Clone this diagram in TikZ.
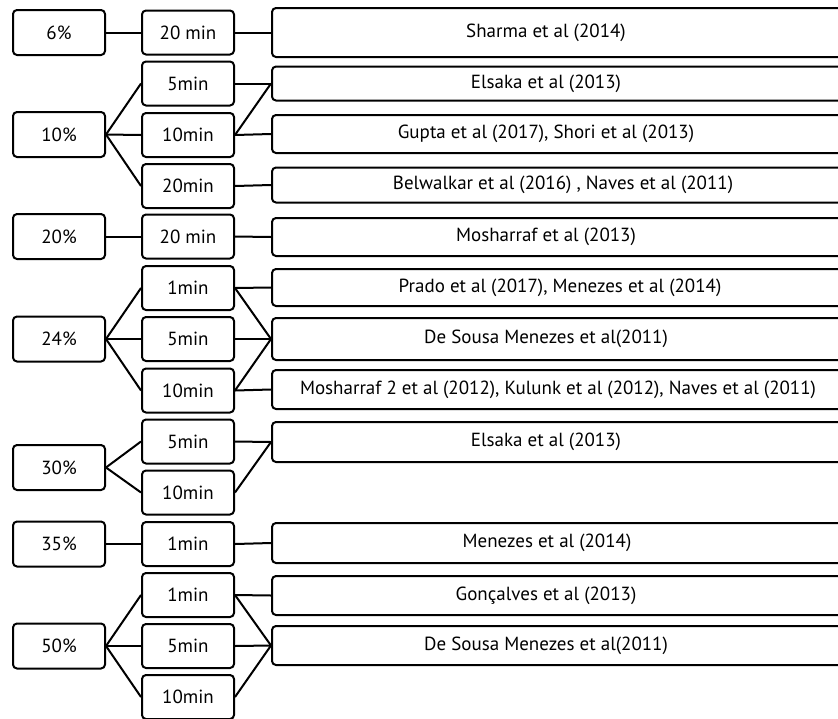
\documentclass[tikz,border=0pt]{standalone}
\usepackage{fontspec}
\setmainfont{PT Sans}
\begin{document}
\begin{tikzpicture}[x=1pt,y=-1pt,
  box/.style={draw,line width=2pt,rounded corners=4pt,inner sep=0pt},
  pct/.style={box,minimum width=92pt,minimum height=45pt},
  dur/.style={box,minimum width=92pt,minimum height=44pt},
  ref/.style={box,anchor=west,minimum width=600pt},
  link/.style={line width=2pt},
  every node/.style={font=\fontsize{19}{22}\selectfont}]
  % page frame, in pixels of the original layout (y grows downwards)
  \useasboundingbox (0,0) rectangle (838,718);

  % concentrations
  \node[pct] (p6)  at (59,32.5)  {6\%};
  \node[pct] (p10) at (59,134.5) {10\%};
  \node[pct] (p20) at (59,236.5) {20\%};
  \node[pct] (p24) at (59,339)   {24\%};
  \node[pct] (p30) at (59,467.5) {30\%};
  \node[pct] (p35) at (59,544)   {35\%};
  \node[pct] (p50) at (59,646)   {50\%};

  % etching times
  \node[dur] (d6)   at (188,32.5) {20 min};
  \node[dur] (d10a) at (188,83.5) {5min};
  \node[dur] (d10b) at (188,135)  {10min};
  \node[dur] (d10c) at (188,186)  {20min};
  \node[dur] (d20)  at (188,236.5) {20 min};
  \node[dur] (d24a) at (188,288)  {1min};
  \node[dur] (d24b) at (188,339)  {5min};
  \node[dur] (d24c) at (188,390.5) {10min};
  \node[dur] (d30a) at (188,441.5) {5min};
  \node[dur] (d30b) at (188,492.5) {10min};
  \node[dur] (d35)  at (188,544)  {1min};
  \node[dur] (d50a) at (188,595)  {1min};
  \node[dur] (d50b) at (188,646)  {5min};
  \node[dur] (d50c) at (188,697)  {10min};

  % references (boxes run past the right edge)
  \node[ref,minimum height=49pt] (r6)   at (271,32.5)  {};
  \node[ref,minimum height=34pt] (r10a) at (271,83.5)  {};
  \node[ref,minimum height=38pt] (r10b) at (271,134)   {};
  \node[ref,minimum height=35pt] (r10c) at (271,185)   {};
  \node[ref,minimum height=38pt] (r20)  at (271,237)   {};
  \node[ref,minimum height=37pt] (r24a) at (271,287.5) {};
  \node[ref,minimum height=42pt] (r24b) at (271,339)   {};
  \node[ref,minimum height=39pt] (r24c) at (271,389.5) {};
  \node[ref,minimum height=40pt] (r30)  at (271,442)   {};
  \node[ref,minimum height=40pt] (r35)  at (271,543)   {};
  \node[ref,minimum height=39pt] (r50a) at (271,595.5) {};
  \node[ref,minimum height=39pt] (r50b) at (271,645.5) {};

  \node (t6)   at (546,32.5)  {Sharma et al (2014)};
  \node (t10a) at (546,83.5)  {Elsaka et al (2013)};
  \node (t10b) at (546,134)   {Gupta et al (2017), Shori et al (2013)};
  \node (t10c) at (563,185)   {Belwalkar et al (2016) , Naves et al (2011)};
  \node (t20)  at (546,237)   {Mosharraf et al (2013)};
  \node (t24a) at (560,287.5) {Prado et al (2017), Menezes et al (2014)};
  \node (t24b) at (546,339)   {De Sousa Menezes et al(2011)};
  \node (t24c) at (558,389.5) {Mosharraf 2 et al (2012), Kulunk et al (2012), Naves et al (2011)};
  \node (t30)  at (546,442)   {Elsaka et al (2013)};
  \node (t35)  at (547,543)   {Menezes et al (2014)};
  \node (t50a) at (546,595.5) {Gonçalves et al (2013)};
  \node (t50b) at (546,645.5) {De Sousa Menezes et al(2011)};

  % concentration -> time
  \draw[link] (p6.east) -- (d6.west);
  \foreach \t in {d10a,d10b,d10c} \draw[link] (p10.east) -- (\t.west);
  \draw[link] (p20.east) -- (d20.west);
  \foreach \t in {d24a,d24b,d24c} \draw[link] (p24.east) -- (\t.west);
  \foreach \t in {d30a,d30b} \draw[link] (p30.east) -- (\t.west);
  \draw[link] (p35.east) -- (d35.west);
  \foreach \t in {d50a,d50b,d50c} \draw[link] (p50.east) -- (\t.west);

  % time -> reference
  \draw[link] (d6.east) -- (r6.west);
  \draw[link] (d10a.east) -- (r10a.west);
  \draw[link] (d10b.east) -- (r10a.west);
  \draw[link] (d10b.east) -- (r10b.west);
  \draw[link] (d10c.east) -- (r10c.west);
  \draw[link] (d20.east) -- (r20.west);
  \draw[link] (d24a.east) -- (r24a.west);
  \foreach \t in {d24a,d24b,d24c} \draw[link] (\t.east) -- (r24b.west);
  \draw[link] (d24c.east) -- (r24c.west);
  \foreach \t in {d30a,d30b} \draw[link] (\t.east) -- (r30.west);
  \draw[link] (d35.east) -- (r35.west);
  \draw[link] (d50a.east) -- (r50a.west);
  \foreach \t in {d50a,d50b,d50c} \draw[link] (\t.east) -- (r50b.west);
\end{tikzpicture}
\end{document}
